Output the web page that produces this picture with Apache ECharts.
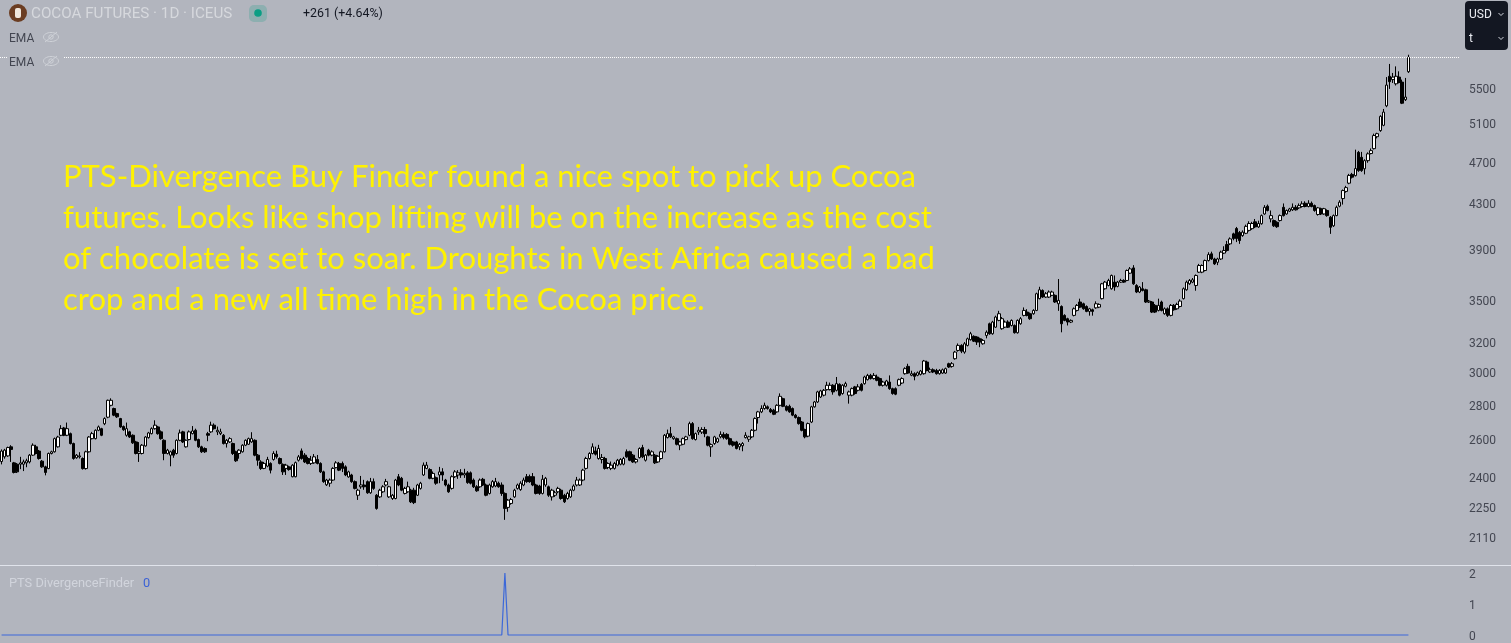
<!DOCTYPE html>
<html><head><meta charset="utf-8">
<style>html,body{margin:0;padding:0;background:#b2b5be}#c{width:1511px;height:643px}</style>
<script src="https://cdn.jsdelivr.net/npm/echarts@6/dist/echarts.min.js"></script>
</head><body><div id="c"></div>
<script>
const opens=[
2480,2505,2510,2559,2473,2466,2466,2466,2473,2478,
2514,2559,2536,2482,2452,2443,2523,2532,2559,2623,
2664,2623,2632,2577,2500,2505,2496,2443,2532,2604,
2604,2651,2660,2688,2726,2796,2777,2747,2718,2672,
2623,2642,2623,2586,2523,2523,2564,2610,2632,2660,
2670,2642,2595,2523,2514,2541,2523,2595,2642,2559,
2599,2632,2651,2599,2559,2550,2632,2642,2680,2642,
2632,2623,2577,2586,2577,2532,2523,2532,2568,2573,
2586,2595,2514,2478,2444,2456,2470,2491,2519,2496,
2465,2444,2452,2401,2401,2487,2537,2514,2496,2470,
2473,2491,2470,2426,2360,2368,2384,2448,2470,2470,
2452,2400,2410,2376,2308,2350,2359,2376,2320,2376,
2308,2300,2325,2359,2300,2292,2292,2401,2393,2317,
2325,2333,2333,2308,2342,2410,2444,2438,2393,2396,
2410,2426,2384,2359,2342,2401,2410,2421,2410,2421,
2421,2384,2350,2350,2388,2359,2317,2350,2354,2368,
2359,2317,2249,2268,2300,2342,2336,2359,2401,2401,
2401,2359,2354,2317,2359,2350,2300,2308,2325,2333,
2308,2292,2300,2333,2359,2359,2384,2444,2496,2523,
2537,2496,2491,2496,2449,2444,2444,2461,2466,2466,
2532,2532,2514,2478,2501,2555,2487,2541,2514,2514,
2478,2496,2532,2610,2632,2604,2604,2568,2573,2599,
2623,2689,2599,2641,2641,2655,2614,2559,2577,2586,
2614,2628,2628,2604,2586,2586,2559,2565,2610,2601,
2614,2651,2724,2757,2777,2787,2771,2767,2757,2796,
2836,2790,2790,2777,2738,2724,2698,2655,2618,2698,
2787,2816,2846,2857,2891,2891,2918,2887,2924,2867,
2912,2857,2857,2908,2887,2924,2928,2953,2980,2960,
2970,2960,2918,2918,2938,2897,2897,2918,2932,2991,
3038,2981,2991,2981,2987,2991,3066,3002,3016,3012,
2991,2995,2995,3055,3038,3088,3143,3177,3132,3177,
3216,3239,3234,3222,3188,3245,3327,3257,3303,3351,
3292,3303,3339,3315,3315,3264,3327,3387,3411,3399,
3399,3423,3510,3572,3522,3522,3535,3535,3472,3452,
3387,3363,3339,3387,3423,3485,3472,3452,3416,3428,
3442,3447,3510,3585,3610,3585,3636,3603,3636,3649,
3649,3706,3748,3610,3560,3585,3577,3485,3485,3460,
3423,3485,3399,3435,3387,3460,3435,3452,3510,3577,
3623,3636,3610,3714,3714,3727,3807,3862,3820,3793,
3820,3868,3939,3945,4030,4076,4042,4015,4035,4060,
4075,4135,4090,4118,4205,4275,4161,4146,4131,4146,
4265,4205,4230,4242,4265,4260,4272,4302,4272,4302,
4281,4200,4252,4205,4236,4176,4100,4190,4275,4345,
4412,4490,4575,4563,4795,4745,4630,4711,4783,4833,
4958,5023,5080,5295,5640,5600,5550,5630,5570,5365,5695];
const closes=[
2536,2541,2555,2545,2423,2426,2473,2478,2484,2514,
2568,2523,2496,2452,2423,2523,2532,2604,2613,2660,
2623,2660,2577,2496,2514,2510,2443,2532,2613,2632,
2651,2670,2623,2718,2826,2826,2738,2728,2670,2654,
2660,2613,2581,2523,2532,2568,2613,2636,2660,2680,
2632,2604,2523,2541,2532,2514,2595,2636,2586,2595,
2642,2647,2595,2559,2532,2532,2623,2680,2660,2651,
2642,2577,2595,2604,2523,2484,2541,2568,2595,2604,
2604,2514,2487,2444,2470,2491,2435,2523,2505,2470,
2426,2461,2438,2461,2474,2505,2496,2478,2470,2487,
2505,2470,2426,2376,2384,2384,2444,2473,2435,2444,
2410,2426,2376,2342,2333,2359,2350,2320,2376,2342,
2244,2333,2350,2376,2350,2308,2384,2359,2333,2342,
2350,2276,2272,2359,2368,2461,2461,2393,2418,2368,
2426,2410,2359,2325,2401,2426,2421,2410,2418,2371,
2368,2350,2330,2384,2359,2308,2359,2376,2376,2350,
2317,2244,2284,2287,2333,2359,2368,2384,2376,2376,
2359,2317,2317,2388,2393,2308,2333,2320,2342,2292,
2276,2317,2333,2354,2384,2384,2435,2496,2523,2559,
2519,2550,2501,2444,2470,2461,2470,2487,2491,2496,
2505,2487,2478,2491,2550,2505,2514,2514,2532,2473,
2508,2532,2623,2632,2614,2614,2573,2586,2604,2614,
2689,2604,2632,2651,2655,2632,2568,2571,2614,2604,
2628,2610,2604,2573,2568,2550,2573,2577,2623,2614,
2651,2718,2757,2777,2796,2777,2757,2743,2796,2850,
2790,2767,2757,2738,2724,2689,2651,2614,2689,2787,
2816,2877,2883,2887,2918,2918,2877,2928,2857,2918,
2928,2877,2897,2867,2908,2887,2970,2980,2960,2980,
2949,2918,2938,2945,2897,2867,2863,2953,2960,3023,
2995,2991,2974,2997,3008,3073,3012,3016,3002,2991,
3012,3016,3023,3034,3055,3132,3177,3138,3188,3222,
3257,3206,3200,3200,3211,3268,3257,3339,3375,3399,
3363,3339,3303,3351,3264,3351,3363,3423,3387,3363,
3423,3547,3577,3522,3547,3560,3560,3485,3497,3327,
3351,3339,3351,3435,3460,3447,3435,3416,3435,3416,
3472,3467,3623,3636,3649,3688,3598,3636,3649,3636,
3727,3740,3623,3560,3598,3572,3485,3492,3411,3411,
3460,3423,3435,3387,3460,3428,3467,3492,3585,3636,
3649,3654,3688,3767,3767,3807,3856,3820,3780,3820,
3876,3890,3890,3987,3990,3990,3973,4045,4095,4120,
4120,4090,4120,4190,4265,4236,4190,4100,4092,4190,
4190,4236,4250,4265,4242,4280,4296,4272,4302,4272,
4236,4260,4205,4252,4190,4087,4190,4265,4312,4420,
4448,4565,4548,4632,4612,4612,4711,4780,4813,4970,
4990,5178,5225,5535,5575,5630,5640,5565,5325,5395,5870];
const lows=[
2465,2495,2505,2478,2418,2420,2440,2430,2450,2470,
2510,2518,2490,2447,2408,2440,2518,2528,2555,2618,
2618,2618,2572,2490,2495,2496,2438,2438,2528,2600,
2600,2646,2618,2680,2720,2790,2732,2722,2665,2648,
2615,2608,2575,2518,2478,2518,2560,2604,2628,2655,
2626,2598,2487,2518,2455,2500,2518,2590,2580,2555,
2594,2628,2590,2553,2526,2526,2590,2636,2655,2624,
2624,2572,2555,2580,2515,2478,2495,2528,2563,2569,
2581,2508,2458,2436,2440,2450,2418,2485,2495,2465,
2410,2410,2432,2398,2398,2480,2490,2472,2465,2462,
2468,2465,2420,2370,2354,2350,2380,2444,2430,2425,
2404,2396,2370,2337,2285,2340,2335,2315,2315,2335,
2238,2295,2320,2352,2295,2285,2288,2353,2328,2312,
2320,2270,2265,2304,2336,2405,2440,2388,2388,2360,
2368,2380,2352,2320,2336,2395,2390,2395,2395,2365,
2362,2344,2325,2345,2354,2303,2312,2345,2348,2345,
2305,2190,2228,2262,2295,2336,2330,2353,2370,2370,
2353,2312,2310,2312,2350,2300,2282,2300,2318,2286,
2270,2286,2295,2328,2352,2354,2378,2438,2490,2518,
2512,2490,2470,2438,2440,2435,2438,2455,2460,2460,
2500,2482,2473,2470,2496,2498,2480,2508,2508,2467,
2473,2490,2528,2605,2608,2598,2567,2541,2568,2594,
2618,2598,2594,2625,2630,2612,2562,2505,2570,2580,
2606,2600,2598,2567,2560,2545,2541,2535,2605,2586,
2608,2645,2689,2750,2770,2770,2750,2738,2752,2790,
2785,2760,2752,2732,2718,2683,2645,2606,2612,2692,
2782,2810,2840,2850,2885,2886,2860,2880,2850,2860,
2905,2806,2850,2860,2880,2880,2922,2948,2954,2954,
2943,2912,2910,2910,2890,2860,2857,2912,2926,2985,
2990,2975,2949,2975,2980,2985,3006,2996,2995,2985,
2985,2990,2990,3028,3030,3082,3135,3125,3121,3170,
3210,3200,3180,3165,3182,3225,3250,3250,3298,3345,
3285,3297,3297,3308,3258,3258,3320,3380,3380,3355,
3392,3418,3505,3516,3516,3515,3529,3478,3420,3267,
3345,3315,3332,3380,3415,3440,3428,3410,3385,3385,
3435,3440,3504,3578,3603,3578,3570,3596,3630,3630,
3643,3700,3615,3552,3552,3565,3478,3478,3404,3404,
3416,3416,3392,3376,3380,3421,3428,3445,3504,3570,
3615,3628,3570,3708,3706,3720,3800,3812,3772,3770,
3812,3860,3880,3935,3975,3960,3945,4005,4028,4050,
4065,4080,4082,4110,4198,4228,4130,4090,4082,4138,
4182,4198,4222,4232,4235,4250,4262,4265,4265,4265,
4225,4190,4195,4198,4180,4030,4090,4185,4265,4290,
4400,4480,4535,4555,4600,4600,4575,4690,4775,4825,
4940,5010,5070,5280,5490,5560,5530,5555,5315,5350,5680];
const highs=[
2545,2548,2560,2568,2478,2472,2505,2490,2495,2520,
2578,2570,2542,2488,2458,2528,2538,2610,2620,2680,
2670,2695,2638,2582,2520,2530,2502,2538,2618,2642,
2656,2678,2665,2725,2830,2838,2782,2752,2722,2678,
2695,2648,2628,2592,2585,2574,2618,2642,2668,2708,
2676,2650,2600,2548,2538,2548,2600,2655,2648,2600,
2650,2675,2660,2604,2565,2556,2642,2700,2690,2672,
2660,2630,2602,2612,2582,2538,2546,2573,2600,2610,
2640,2600,2520,2487,2478,2505,2476,2535,2538,2502,
2470,2468,2458,2466,2480,2515,2550,2525,2505,2510,
2520,2515,2476,2432,2390,2392,2450,2482,2478,2480,
2460,2432,2416,2382,2340,2405,2385,2382,2395,2392,
2314,2340,2358,2390,2355,2314,2390,2415,2400,2350,
2376,2340,2345,2365,2375,2475,2478,2445,2428,2402,
2452,2445,2390,2366,2408,2435,2435,2440,2442,2430,
2428,2392,2358,2392,2395,2366,2366,2384,2395,2376,
2372,2322,2290,2295,2340,2366,2378,2396,2415,2412,
2420,2365,2360,2410,2400,2356,2340,2330,2350,2340,
2315,2325,2340,2362,2400,2392,2442,2505,2530,2578,
2560,2570,2520,2505,2476,2480,2478,2494,2498,2505,
2545,2538,2520,2498,2556,2570,2520,2548,2540,2520,
2514,2538,2630,2655,2670,2620,2610,2592,2610,2620,
2700,2698,2638,2670,2668,2670,2620,2578,2620,2610,
2645,2640,2635,2610,2592,2592,2580,2585,2640,2620,
2658,2725,2763,2796,2812,2795,2780,2775,2802,2868,
2842,2796,2800,2783,2745,2730,2704,2660,2695,2793,
2822,2884,2890,2895,2940,2935,2925,2970,2930,2925,
2940,2885,2904,2914,2925,2932,2978,2990,2990,2995,
2985,2966,2946,2952,2980,2903,2905,2960,2968,3032,
3055,3010,3000,3005,3015,3080,3075,3030,3025,3022,
3020,3024,3030,3062,3066,3140,3190,3185,3200,3230,
3270,3246,3240,3230,3220,3280,3335,3348,3385,3420,
3375,3350,3352,3358,3322,3358,3375,3445,3432,3408,
3432,3555,3600,3580,3560,3572,3570,3542,3660,3460,
3395,3370,3358,3445,3470,3510,3480,3460,3442,3436,
3490,3475,3630,3645,3662,3695,3688,3645,3662,3658,
3735,3755,3770,3620,3606,3636,3585,3500,3492,3470,
3510,3495,3445,3445,3470,3470,3480,3505,3595,3648,
3660,3668,3696,3780,3776,3815,3875,3880,3830,3830,
3888,3925,3970,4000,4040,4090,4055,4060,4110,4140,
4135,4160,4145,4200,4285,4290,4236,4155,4140,4200,
4300,4245,4260,4300,4285,4300,4320,4320,4330,4318,
4290,4268,4262,4260,4246,4186,4200,4280,4330,4430,
4465,4580,4590,4823,4810,4800,4725,4795,4835,4990,
5000,5190,5260,5630,5790,5680,5760,5700,5600,5620,5905];
const divergence=[
0,0,0,0,0,0,0,0,0,0,0,0,0,0,0,0,0,0,0,0,0,0,0,0,0,0,0,0,0,0,
0,0,0,0,0,0,0,0,0,0,0,0,0,0,0,0,0,0,0,0,0,0,0,0,0,0,0,0,0,0,
0,0,0,0,0,0,0,0,0,0,0,0,0,0,0,0,0,0,0,0,0,0,0,0,0,0,0,0,0,0,
0,0,0,0,0,0,0,0,0,0,0,0,0,0,0,0,0,0,0,0,0,0,0,0,0,0,0,0,0,0,
0,0,0,0,0,0,0,0,0,0,0,0,0,0,0,0,0,0,0,0,0,0,0,0,0,0,0,0,0,0,
0,0,0,0,0,0,0,0,0,0,0,2,0,0,0,0,0,0,0,0,0,0,0,0,0,0,0,0,0,0,
0,0,0,0,0,0,0,0,0,0,0,0,0,0,0,0,0,0,0,0,0,0,0,0,0,0,0,0,0,0,
0,0,0,0,0,0,0,0,0,0,0,0,0,0,0,0,0,0,0,0,0,0,0,0,0,0,0,0,0,0,
0,0,0,0,0,0,0,0,0,0,0,0,0,0,0,0,0,0,0,0,0,0,0,0,0,0,0,0,0,0,
0,0,0,0,0,0,0,0,0,0,0,0,0,0,0,0,0,0,0,0,0,0,0,0,0,0,0,0,0,0,
0,0,0,0,0,0,0,0,0,0,0,0,0,0,0,0,0,0,0,0,0,0,0,0,0,0,0,0,0,0,
0,0,0,0,0,0,0,0,0,0,0,0,0,0,0,0,0,0,0,0,0,0,0,0,0,0,0,0,0,0,
0,0,0,0,0,0,0,0,0,0,0,0,0,0,0,0,0,0,0,0,0,0,0,0,0,0,0,0,0,0,
0,0,0,0,0,0,0,0,0,0,0,0,0,0,0,0,0,0,0,0,0,0,0,0,0,0,0,0,0,0,
0,0,0,0,0,0,0,0,0,0,0,0,0,0,0,0,0,0,0,0,0,0,0,0,0,0,0,0,0,0,0];
const priceTicks=[2110,2250,2400,2600,2800,3000,3200,3500,3900,4300,4700,5100,5500];
const lastPrice=5870;
const slotCount=467;
const categories=Array.from({length:slotCount},(_,i)=>String(i));
const candles=opens.map((o,i)=>[o,closes[i],lows[i],highs[i]]);
const note="PTS-Divergence Buy Finder found a nice spot to pick up Cocoa\nfutures. Looks like shop lifting will be on the increase as the cost\nof chocolate is set to soar. Droughts in West Africa caused a bad\ncrop and a new all time high in the Cocoa price.";
const BG='#b2b5be',AX='#434651',UI='Roboto,"Noto Sans",sans-serif';
const txt=(x,y,text,fill,size,extra)=>({type:'text',x,y,z:20,style:Object.assign({text,fill,font:size+'px '+UI,textVerticalAlign:'middle'},extra||{})});
const eye=(cx,cy)=>({type:'group',z:20,children:[
 {type:'ellipse',shape:{cx,cy,rx:7.5,ry:4.5},style:{fill:'none',stroke:'#cfd2d8',lineWidth:1},z:20},
 {type:'circle',shape:{cx,cy,r:2.2},style:{fill:'none',stroke:'#cfd2d8',lineWidth:1},z:20},
 {type:'line',shape:{x1:cx-6,y1:cy+5,x2:cx+6,y2:cy-5},style:{stroke:'#cfd2d8',lineWidth:1},z:20}]});
const chevron=(cx,cy)=>({type:'polyline',z:21,shape:{points:[[cx-2.5,cy-1],[cx,cy+1.5],[cx+2.5,cy-1]]},style:{fill:'none',stroke:'#d1d4dc',lineWidth:1}});
const chart=echarts.init(document.getElementById('c'),null,{renderer:'canvas'});
chart.setOption({
 animation:false,backgroundColor:BG,
 grid:[{left:0,top:0,width:1460,height:565},{left:0,top:573,width:1460,height:64}],
 xAxis:[{type:'category',gridIndex:0,data:categories,show:false,boundaryGap:true},
        {type:'category',gridIndex:1,data:categories,show:false,boundaryGap:true}],
 yAxis:[{type:'log',gridIndex:0,position:'right',min:1989,max:6636,logBase:10,
   axisLine:{show:false},axisTick:{show:false},splitLine:{show:false},minorSplitLine:{show:false},
   axisLabel:{customValues:priceTicks,formatter:v=>String(Math.round(v)),color:AX,fontSize:12,fontFamily:UI,margin:9,verticalAlign:'top',lineHeight:4,showMinLabel:true,showMaxLabel:true,hideOverlap:false}},
  {type:'value',gridIndex:1,position:'right',min:0,max:2,interval:1,
   axisLine:{show:false},axisTick:{show:false},splitLine:{show:false},
   axisLabel:{color:AX,fontSize:12,fontFamily:UI,margin:9,verticalAlign:'top',lineHeight:4}}],
 series:[
  {type:'candlestick',xAxisIndex:0,yAxisIndex:0,data:candles,barWidth:3,
   itemStyle:{color:'#ffffff',color0:'#000000',borderColor:'#000000',borderColor0:'#000000',borderWidth:1},
   markLine:{silent:true,symbol:'none',animation:false,label:{show:false},
     lineStyle:{color:'#ffffff',type:'dotted',width:1},data:[{yAxis:lastPrice}]}},
  {type:'line',xAxisIndex:1,yAxisIndex:1,data:divergence,symbol:'none',clip:false,
   lineStyle:{color:'#3c68d9',width:1.2}}
 ],
 graphic:[
  {type:'rect',z:10,shape:{x:8,y:50,width:56,height:20},style:{fill:BG}},
  {type:'line',z:10,shape:{x1:0,y1:565.5,x2:1511,y2:565.5},style:{stroke:'#e0e3eb',lineWidth:1}},
  {type:'circle',z:20,shape:{cx:18,cy:13,r:9},style:{fill:'#6b3d22'}},
  {type:'rect',z:21,shape:{x:15,y:8,width:6,height:10,r:2},style:{fill:'#efe6dc'}},
  txt(31,14,'COCOA FUTURES · 1D · ICEUS','#d6d8dd',15.2),
  {type:'rect',z:20,shape:{x:249,y:5,width:18,height:17,r:5},style:{fill:'rgba(8,153,129,0.22)'}},
  {type:'circle',z:21,shape:{cx:258,cy:13,r:3.8},style:{fill:'#0a9e84'}},
  txt(303,14,'+261 (+4.64%)','#131722',12.4),
  txt(9,39,'EMA',AX,12),eye(51,37),
  txt(9,63,'EMA',AX,12),eye(51,61),
  txt(9,584,'PTS DivergenceFinder','#d1d4dc',12.8),
  txt(143,584,'0','#3c62d6',12.8),
  {type:'rect',z:20,shape:{x:1465,y:1,width:43,height:49,r:4},style:{fill:'#131722'}},
  txt(1469,15,'USD','#e8eaf0',12,{}),txt(1469,39,'t','#e8eaf0',12,{}),
  chevron(1501,14),chevron(1501,38),
  {type:'text',z:15,x:63,y:156,style:{text:note,fill:'#fff200',font:'31px "Comic Sans MS","Lato",sans-serif',lineHeight:41,textVerticalAlign:'top'}}
 ]
});
</script></body></html>
